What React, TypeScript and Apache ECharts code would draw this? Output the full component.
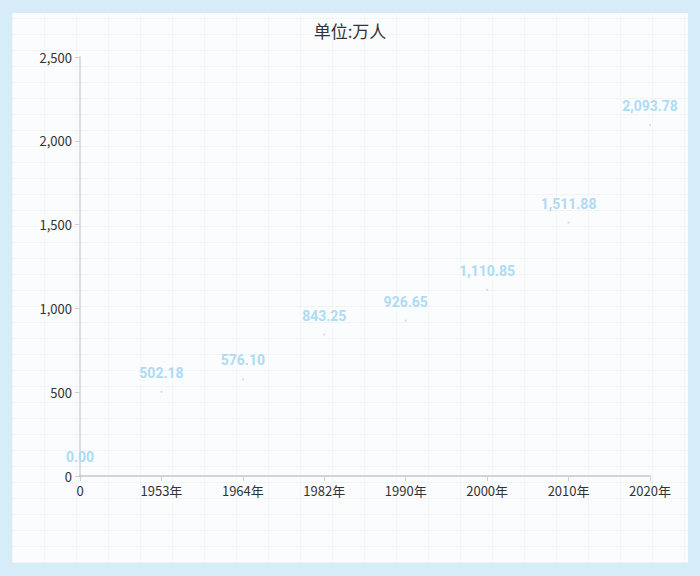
import React, { useEffect, useRef } from "react";
import * as echarts from "echarts";

const categories = ["0", "1953年", "1964年", "1982年", "1990年", "2000年", "2010年", "2020年"];
const values = [0, 502.18, 576.1, 843.25, 926.65, 1110.85, 1511.88, 2093.78];
const titleText = "单位:万人";

const fmt2 = (v: number) =>
  v.toLocaleString("en-US", { minimumFractionDigits: 2, maximumFractionDigits: 2 });

export default function App() {
  const ref = useRef<HTMLDivElement>(null);
  useEffect(() => {
    document.body.style.margin = "0";
    const chart = echarts.init(ref.current!, null, { renderer: "svg" });
    chart.setOption({
      animation: false,
      backgroundColor: "transparent",
      title: {
        text: titleText,
        left: "center",
        top: 17,
        textStyle: { fontSize: 17, fontWeight: "normal", color: "#333", fontFamily: "Noto Sans CJK SC" },
      },
      grid: { left: 80, right: 50, top: 57, bottom: 100, containLabel: false },
      xAxis: {
        type: "category",
        data: categories,
        boundaryGap: false,
        axisLine: { lineStyle: { color: "#d4d4d4", width: 2 } },
        axisTick: { show: true, alignWithLabel: true, lineStyle: { color: "#d0d0d0" } },
        axisLabel: { color: "#333", fontSize: 13, margin: 8, fontFamily: "Noto Sans CJK SC", interval: 0 },
        splitLine: { show: false },
      },
      yAxis: {
        type: "value",
        min: 0,
        max: 2500,
        interval: 500,
        axisLine: { show: true, lineStyle: { color: "#dcdcdc", width: 2 } },
        axisTick: { show: true, lineStyle: { color: "#d0d0d0" } },
        axisLabel: {
          color: "#333",
          fontSize: 13,
          margin: 8,
          fontFamily: "Noto Sans CJK SC",
          formatter: (v: number) => v.toLocaleString("en-US"),
        },
        splitLine: { show: false },
      },
      series: [
        {
          type: "line",
          data: values,
          symbol: "circle",
          symbolSize: 2,
          itemStyle: { color: "rgba(170,170,170,0.4)" },
          lineStyle: { opacity: 0 },
          label: {
            show: true,
            position: "top",
            distance: 11,
            color: "#aedbf3",
            fontSize: 14,
            fontWeight: "bold",
            fontFamily: "Roboto",
            formatter: (p: any) => fmt2(p.value),
          },
        },
      ],
    });
    return () => chart.dispose();
  }, []);
  return (
    <div style={{ position: "fixed", left: 0, top: 0, width: 700, height: 576, background: "#d6ecf8" }}>
      <div
        style={{
          position: "absolute",
          left: 12,
          top: 13,
          width: 676,
          height: 550,
          background: "#fbfcfd",
          backgroundImage:
            "repeating-linear-gradient(0deg, rgba(0,0,0,0.035) 0 1px, transparent 1px 16px), repeating-linear-gradient(90deg, rgba(0,0,0,0.025) 0 1px, transparent 1px 32px)",
        }}
      />
      <div ref={ref} style={{ position: "absolute", left: 0, top: 0, width: 700, height: 576 }} />
    </div>
  );
}
